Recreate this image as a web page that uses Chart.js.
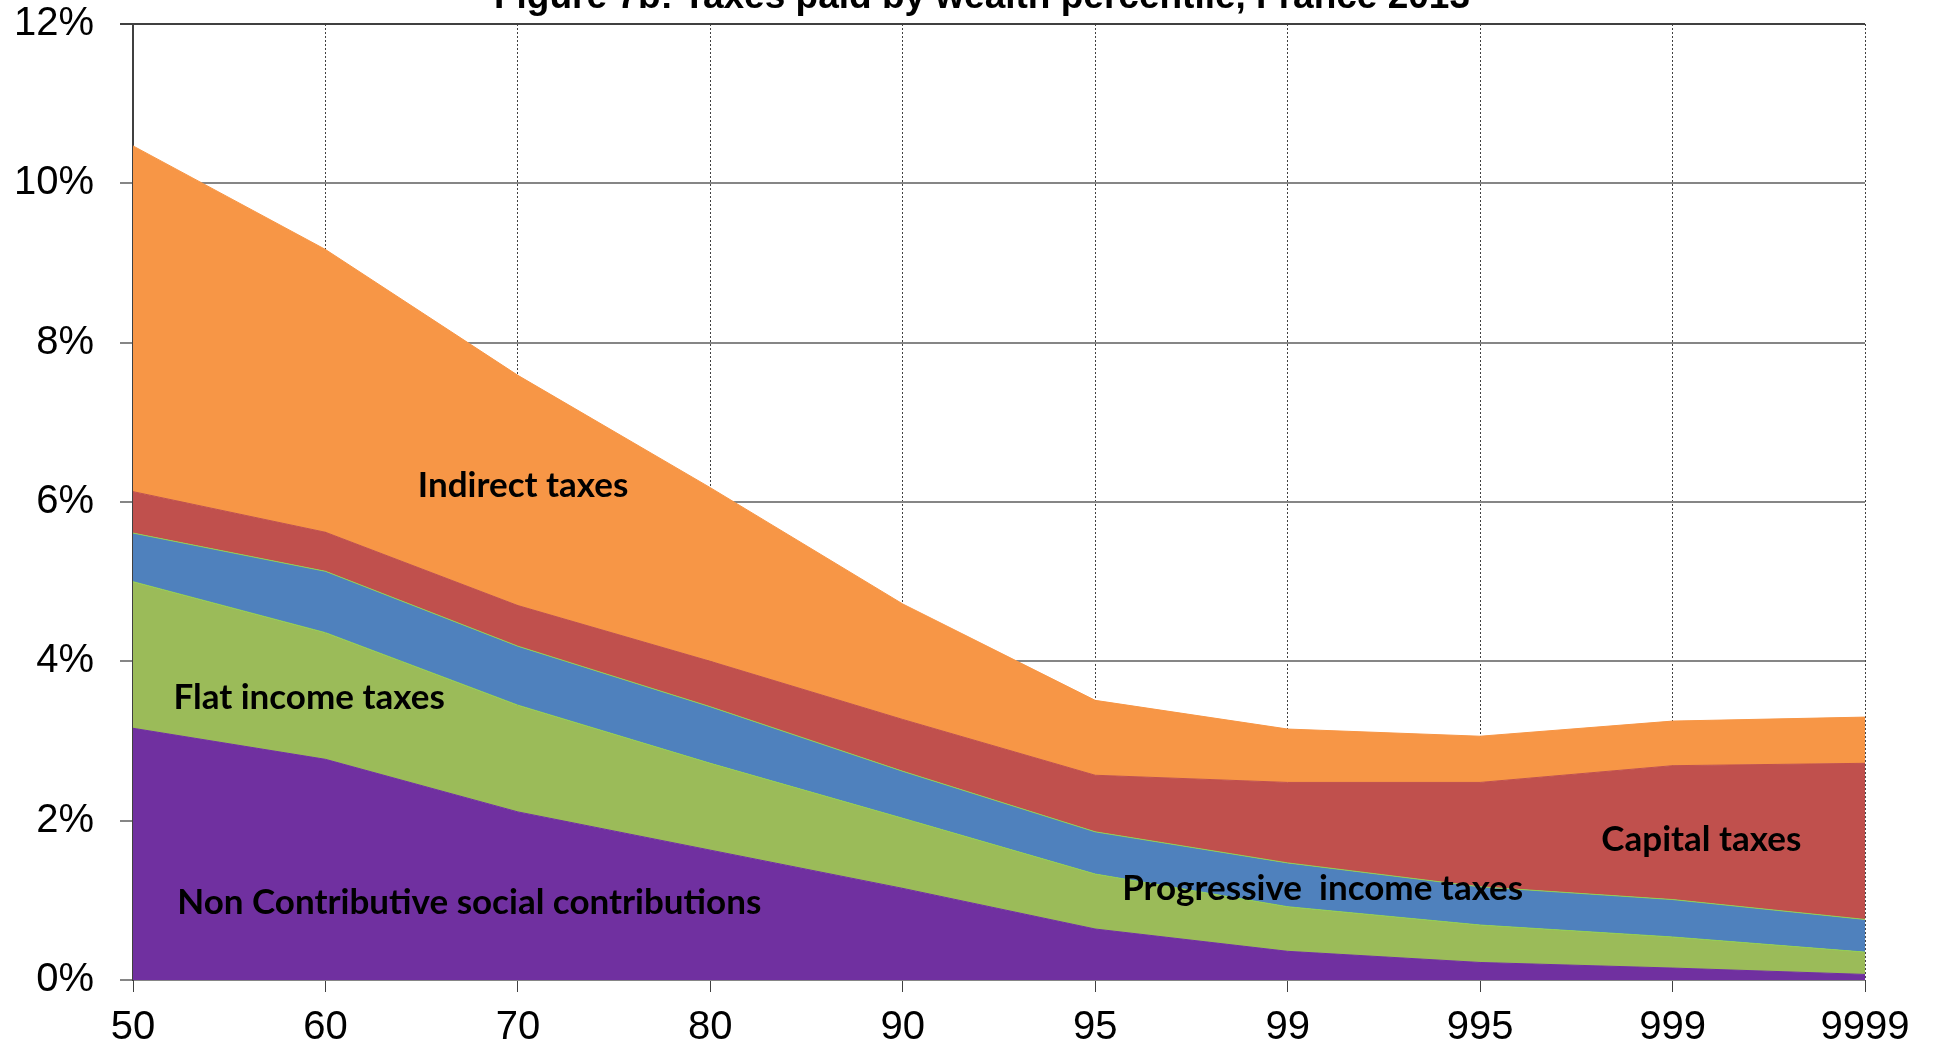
<!DOCTYPE html>
<html>
<head>
<meta charset="utf-8">
<script src="https://cdn.jsdelivr.net/npm/chart.js@4.4.1/dist/chart.umd.min.js"></script>
<style>
  html, body { margin: 0; padding: 0; background: #ffffff; }
  #wrap { width: 1937px; height: 1052px; }
</style>
</head>
<body>
<div id="wrap"><canvas id="taxChart" width="1937" height="1052"></canvas></div>
<script>
// wealth percentiles on the x axis
var percentiles = ['50', '60', '70', '80', '90', '95', '99', '995', '999', '9999'];

// taxes paid, % of wealth (stacked, bottom to top)
var nonContributive = [3.16, 2.77, 2.11, 1.63, 1.15, 0.64, 0.36, 0.22, 0.15, 0.07];
var flatIncome      = [1.84, 1.59, 1.34, 1.09, 0.88, 0.69, 0.56, 0.47, 0.39, 0.28];
var progressive     = [0.61, 0.77, 0.74, 0.71, 0.59, 0.53, 0.55, 0.48, 0.47, 0.41];
var capitalTaxes    = [0.52, 0.49, 0.51, 0.57, 0.65, 0.71, 1.01, 1.31, 1.68, 1.96];
var indirectTaxes   = [4.34, 3.55, 2.89, 2.18, 1.45, 0.94, 0.67, 0.58, 0.56, 0.58];

var yTicks = [0, 2, 4, 6, 8, 10, 12];

var chartTitle = 'Figure 7b: Taxes paid by wealth percentile, France 2013';

// text labels placed inside the areas (x = category index, y = %)
var labelTexts = ['Indirect taxes', 'Flat income taxes', 'Non Contributive social contributions', 'Progressive  income taxes', 'Capital taxes'];
var labelX = [1.48, 0.21, 0.23, 5.14, 7.63];
var labelY = [6.20, 3.54, 0.97, 1.14, 1.76];

function areaSet(label, data, colour, line) {
    return {
        label: label,
        data: data,
        backgroundColor: colour,
        borderColor: line || colour,
        borderWidth: 1,
        pointRadius: 0,
        tension: 0,
        fill: label == 'Non Contributive social contributions' ? 'origin' : '-1'
    }
}

var textPlugin = {
    id: 'textPlugin',
    afterDatasetsDraw: function(chart) {
        let ctx = chart.ctx;
        let xs = chart.scales.x;
        let ys = chart.scales.y;
        ctx.save();
        ctx.fillStyle = '#000000';
        ctx.font = 'bold 35px Lato, "Open Sans", sans-serif';
        ctx.textAlign = 'left';
        ctx.textBaseline = 'middle';
        for (let i = 0; i < labelTexts.length; i++) {
            let px = xs.getPixelForValue(labelX[i]);
            let py = ys.getPixelForValue(labelY[i]);
            ctx.fillText(labelTexts[i], px, py);
        }
        ctx.restore();
    },
    afterDraw: function(chart) {
        // title sits mostly above the top edge of the picture
        let ctx = chart.ctx;
        ctx.save();
        ctx.fillStyle = '#000000';
        ctx.font = 'bold 37px "Liberation Sans", Arial, sans-serif';
        ctx.textAlign = 'center';
        ctx.textBaseline = 'alphabetic';
        ctx.fillText(chartTitle, 982, 8);
        ctx.restore();
    }
};

var ctx = document.getElementById('taxChart').getContext('2d');

var myChart = new Chart(ctx, {
    type: 'line',
    data: {
        labels: percentiles,
        datasets: [
            areaSet('Non Contributive social contributions', nonContributive, '#7030A0'),
            areaSet('Flat income taxes', flatIncome, '#9BBB59', '#92D050'),
            areaSet('Progressive income taxes', progressive, '#4F81BD', '#92D050'),
            areaSet('Capital taxes', capitalTaxes, '#C0504D'),
            areaSet('Indirect taxes', indirectTaxes, '#F79646')
        ]
    },
    plugins: [textPlugin],
    options: {
        responsive: false,
        animation: false,
        layout: { padding: { top: 24, right: 72, bottom: 0, left: 0 } },
        plugins: {
            legend: { display: false },
            title: { display: false },
            tooltip: { enabled: false }
        },
        scales: {
            x: {
                offset: false,
                grid: {
                    color: '#404040',
                    lineWidth: 1,
                    tickLength: 12,
                    drawOnChartArea: true
                },
                border: { display: false, dash: [2, 2] },
                ticks: {
                    color: '#000000',
                    padding: 12,
                    maxRotation: 0,
                    font: { family: '"Liberation Sans", Arial, sans-serif', size: 40 }
                },
                afterFit: function(scale) { scale.height = 72; }
            },
            y: {
                stacked: true,
                min: 0,
                max: 12,
                afterBuildTicks: function(scale) {
                    scale.ticks = yTicks.map(v => ({ value: v }));
                },
                grid: {
                    color: function(c) { return c.tick && c.tick.value == 12 ? '#404040' : '#868686'; },
                    lineWidth: 2,
                    tickLength: 13
                },
                border: { display: true, color: '#404040', width: 2 },
                ticks: {
                    color: '#000000',
                    padding: 26,
                    callback: function(v) { return v + '%'; },
                    font: { family: '"Liberation Sans", Arial, sans-serif', size: 40 }
                },
                afterFit: function(scale) {
                    scale.width = 133;
                    scale.paddingTop = 0;
                    scale.paddingBottom = 0;
                }
            }
        }
    }
});
</script>
</body>
</html>
